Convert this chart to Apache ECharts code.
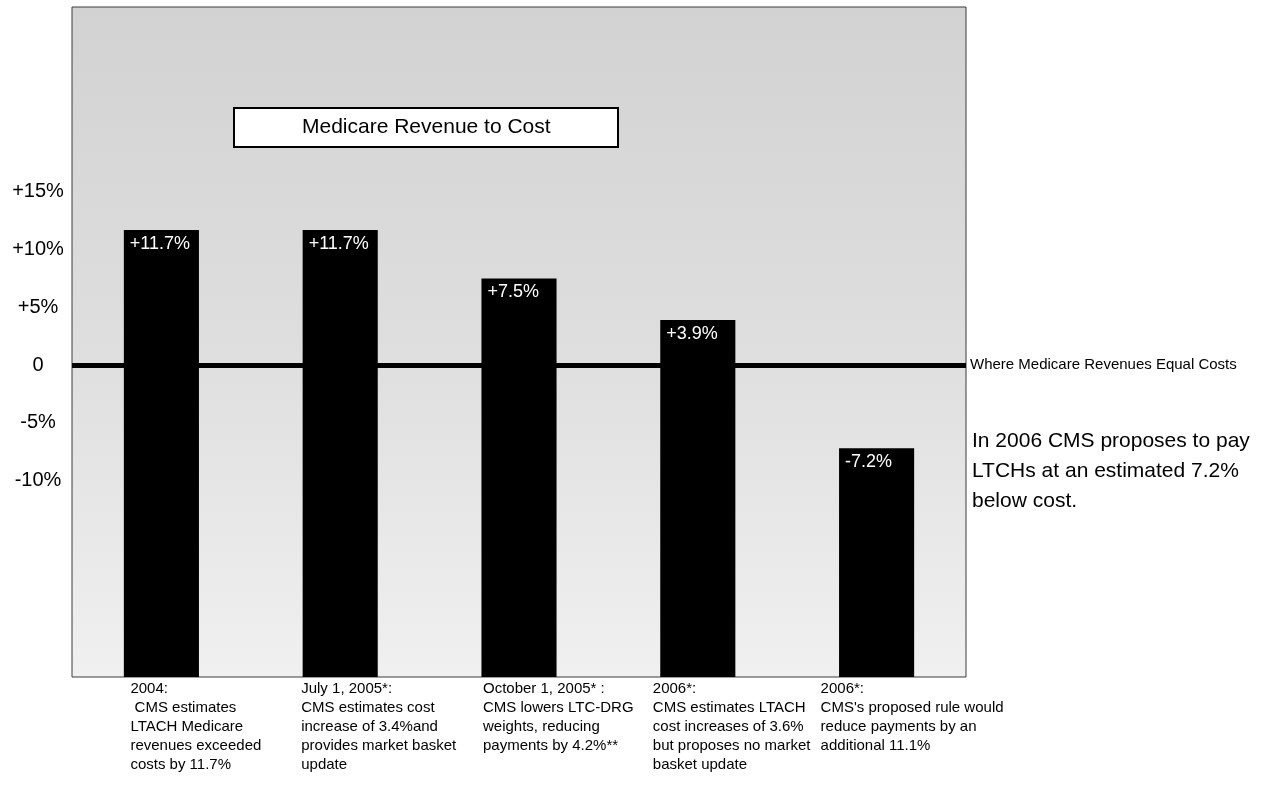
<!DOCTYPE html>
<html>
<head>
<meta charset="utf-8">
<title>Medicare Revenue to Cost</title>
<script src="https://cdn.jsdelivr.net/npm/echarts@6/dist/echarts.min.js"></script>
<style>
  html, body { margin: 0; padding: 0; background: #fff; }
  #chart { width: 1273px; height: 786px; }
</style>
</head>
<body>
<div id="chart"></div>
<script>
// Category captions shown under each bar
const categories = [
  '2004:\n CMS estimates\nLTACH Medicare\nrevenues exceeded\ncosts by 11.7%',
  'July 1, 2005*:\nCMS estimates cost\nincrease of 3.4%and\nprovides market basket\nupdate',
  'October 1, 2005* :\nCMS lowers LTC-DRG\nweights, reducing\npayments by 4.2%**',
  '2006*:\nCMS estimates LTACH\ncost increases of 3.6%\nbut proposes no market\nbasket update',
  "2006*:\nCMS's proposed rule would\nreduce payments by an\nadditional 11.1%"
];

// Medicare revenue relative to cost, percent
const revenueToCost = [11.7, 11.7, 7.5, 3.9, -7.2];

// Value-axis ticks and their printed labels
const tickValues = [15, 10, 5, 0, -5, -10];
const tickLabels = ['+15%', '+10%', '+5%', '0', '-5%', '-10%'];

const Y_MIN = -27;
const Y_MAX = 31;
const FONT = '"Liberation Sans", Arial, sans-serif';

function pctText(v) {
  return (v > 0 ? '+' : '') + v.toFixed(1) + '%';
}

// Per-caption box widths so each caption block starts left of its bar
const captionWidths = [62, 78, 72, 90, 112];
const captionRich = {};
captionWidths.forEach(function (w, i) {
  captionRich['c' + i] = {
    width: w, align: 'left', fontSize: 15, lineHeight: 19,
    fontFamily: FONT, color: '#000'
  };
});

const chart = echarts.init(document.getElementById('chart'), null, { renderer: 'canvas' });

chart.setOption({
  animation: false,
  backgroundColor: '#ffffff',
  title: {
    text: 'Medicare Revenue to Cost',
    left: 234,
    top: 108,
    padding: [9, 68, 9, 68],
    backgroundColor: '#ffffff',
    borderColor: '#000000',
    borderWidth: 2,
    textStyle: { fontFamily: FONT, fontSize: 21, fontWeight: 'normal', color: '#000' }
  },
  grid: {
    left: 72, top: 7, right: 307, bottom: 109,
    show: true,
    borderColor: '#3a3a3a',
    borderWidth: 1,
    backgroundColor: {
      type: 'linear', x: 0, y: 0, x2: 0, y2: 1,
      colorStops: [
        { offset: 0, color: '#d2d2d2' },
        { offset: 0.5, color: '#dedede' },
        { offset: 1, color: '#f0f0f0' }
      ]
    }
  },
  xAxis: {
    type: 'category',
    data: categories,
    boundaryGap: true,
    axisLine: { show: false },
    axisTick: { show: false },
    splitLine: { show: false },
    axisLabel: {
      interval: 0,
      margin: 2,
      align: 'center',
      verticalAlign: 'top',
      formatter: function (value, index) {
        return '{c' + index + '|' + value + '}';
      },
      rich: captionRich
    }
  },
  yAxis: {
    type: 'value',
    min: Y_MIN,
    max: Y_MAX,
    axisLine: { show: false },
    axisTick: { show: false },
    splitLine: { show: false },
    axisLabel: {
      customValues: tickValues,
      margin: 34,
      align: 'center',
      fontFamily: FONT,
      fontSize: 20,
      color: '#000',
      formatter: function (v) {
        const i = tickValues.indexOf(v);
        return i >= 0 ? tickLabels[i] : '';
      }
    }
  },
  graphic: [
    {
      type: 'text',
      left: 972,
      top: 426,
      style: {
        text: 'In 2006 CMS proposes to pay\nLTCHs at an estimated 7.2%\nbelow cost.',
        font: '21px ' + FONT,
        lineHeight: 30,
        fill: '#000'
      }
    }
  ],
  series: [
    {
      // Break-even reference line at zero
      type: 'line',
      data: [],
      silent: true,
      markLine: {
        silent: true,
        symbol: 'none',
        lineStyle: { color: '#000', width: 5, type: 'solid' },
        label: {
          show: true,
          position: 'end',
          distance: 4,
          formatter: 'Where Medicare Revenues Equal Costs',
          fontFamily: FONT,
          fontSize: 15,
          color: '#000'
        },
        data: [{ yAxis: 0 }]
      }
    },
    {
      // Columns rise from the bottom of the plot to each value
      type: 'custom',
      data: revenueToCost.map(function (v, i) { return [i, v]; }),
      encode: { x: 0, y: 1 },
      z: 3,
      renderItem: function (params, api) {
        const idx = api.value(0);
        const v = api.value(1);
        const top = api.coord([idx, v]);
        const base = api.coord([idx, Y_MIN]);
        const w = api.size([1, 0])[0] * 0.42;
        const x0 = top[0] - w / 2;
        return {
          type: 'group',
          children: [
            {
              type: 'rect',
              shape: { x: x0, y: top[1], width: w, height: base[1] - top[1] },
              style: { fill: '#000' }
            },
            {
              type: 'text',
              x: x0 + 6,
              y: top[1] + 5,
              style: {
                text: pctText(v),
                fill: '#fff',
                font: '18px ' + FONT,
                textAlign: 'left',
                textVerticalAlign: 'top'
              }
            }
          ]
        };
      }
    }
  ]
});
</script>
</body>
</html>
